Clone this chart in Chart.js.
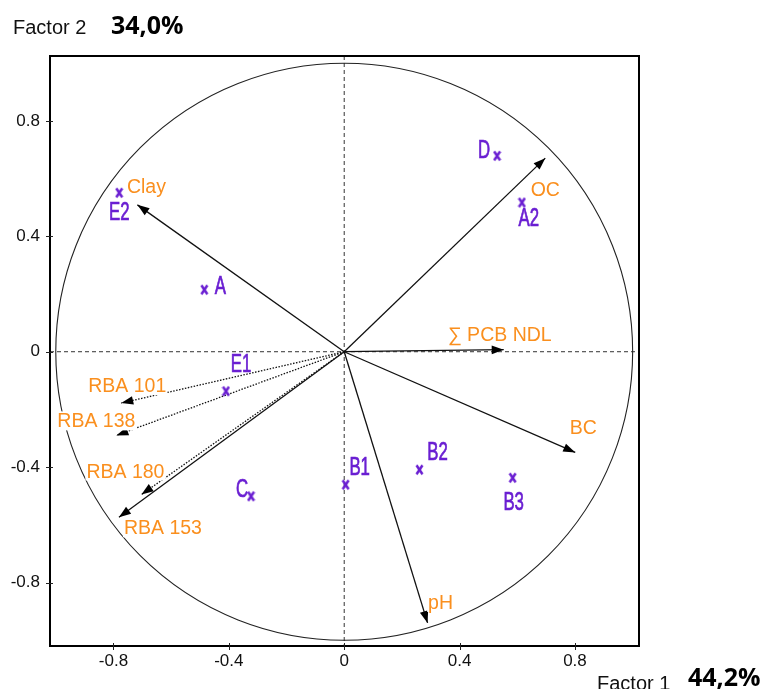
<!DOCTYPE html>
<html>
<head>
<meta charset="utf-8">
<script src="https://cdn.jsdelivr.net/npm/chart.js@4.4.1/dist/chart.umd.min.js"></script>
<style>
html,body{margin:0;padding:0;background:#fff;overflow:hidden}
#wrap{width:766px;height:689px;position:relative}
canvas{display:block}
</style>
</head>
<body>
<div id="wrap"><canvas id="c" width="766" height="689"></canvas></div>
<script>
// ---- data ----
const obsNames = ['A', 'A2', 'B1', 'B2', 'B3', 'C', 'D', 'E1', 'E2'];
const obsF1 = [-0.485, 0.616, 0.005, 0.261, 0.584, -0.323, 0.530, -0.410, -0.780];
const obsF2 = [0.215, 0.517, -0.461, -0.409, -0.437, -0.501, 0.679, -0.137, 0.551];

const varNames = ['Clay', 'OC', '\u2211 PCB NDL', 'BC', 'pH', 'RBA 101', 'RBA 138', 'RBA 180', 'RBA 153'];
const varF1 = [-0.717, 0.697, 0.553, 0.801, 0.289, -0.773, -0.790, -0.703, -0.781];
const varF2 = [0.509, 0.671, 0.007, -0.349, -0.940, -0.178, -0.290, -0.495, -0.574];

const xTicks = [-0.8, -0.4, 0, 0.4, 0.8];
const xTickLabels = ['-0.8', '-0.4', '0', '0.4', '0.8'];
const yTicks = [-0.8, -0.4, 0, 0.4, 0.8];
const yTickLabels = ['-0.8', '-0.4', '0', '0.4', '0.8'];

const xTitle = 'Factor 1';
const xPct = '44,2%';
const yTitle = 'Factor 2';
const yPct = '34,0%';

// ---- styles ----
const PURPLE = '#6a1fd2';
const ORANGE = '#fa8f1e';
const dottedVars = ['RBA 101', 'RBA 138', 'RBA 180'];
// label offsets in pixels (text centre relative to mark)
const obsLabelOffset = {
  'A': [16, -5], 'A2': [7, 14], 'B1': [14, -19], 'B2': [18, -19], 'B3': [1, 23],
  'C': [-9, -8], 'D': [-13, -7], 'E1': [15, -28], 'E2': [0, 18]
};
const varLabelOffset = {
  'Clay': [9, -19], 'OC': [0, 31], '\u2211 PCB NDL': [-4, -16], 'BC': [8, -25], 'pH': [13, -21],
  'RBA 101': [6, -18], 'RBA 138': [-20, -15], 'RBA 180': [-16, -24], 'RBA 153': [44, 10]
};

// marker image: narrow bold "x"
const marker = document.createElement('canvas');
marker.width = 9; marker.height = 12;
(function () {
  const m = marker.getContext('2d');
  m.strokeStyle = PURPLE; m.lineWidth = 2.5; m.lineCap = 'butt';
  m.beginPath();
  m.moveTo(1.5, 1.5); m.lineTo(7.5, 10.5);
  m.moveTo(7.5, 1.5); m.lineTo(1.5, 10.5);
  m.stroke();
})();

const datasets = [];
datasets.push({
  label: 'obs',
  type: 'scatter',
  data: obsNames.map((n, i) => ({ x: obsF1[i], y: obsF2[i] })),
  pointStyle: marker,
  pointRadius: 5,
  order: 0
});
varNames.forEach((n, i) => {
  datasets.push({
    label: n,
    type: 'line',
    data: [{ x: 0, y: 0 }, { x: varF1[i], y: varF2[i] }],
    borderColor: '#111',
    borderWidth: 1.3,
    borderDash: dottedVars.includes(n) ? [1.5, 1.5] : [],
    pointRadius: 0,
    fill: false,
    tension: 0,
    order: 1
  });
});

const SANS = '"Liberation Sans", Arial, sans-serif';

const decor = {
  id: 'decor',
  beforeDatasetsDraw(chart) {
    const { ctx, chartArea: a, scales: { x, y } } = chart;
    const x0 = x.getPixelForValue(0), y0 = y.getPixelForValue(0);
    ctx.save();
    // dashed zero axes
    ctx.strokeStyle = '#333';
    ctx.lineWidth = 1;
    ctx.setLineDash([4, 3]);
    ctx.beginPath();
    ctx.moveTo(a.left, y0); ctx.lineTo(a.right, y0);
    ctx.moveTo(x0, a.top); ctx.lineTo(x0, a.bottom);
    ctx.stroke();
    ctx.setLineDash([]);
    // correlation circle (radius 1)
    const rx = x.getPixelForValue(1) - x0;
    const ry = y0 - y.getPixelForValue(1);
    ctx.strokeStyle = '#222';
    ctx.lineWidth = 1.1;
    ctx.beginPath();
    ctx.ellipse(x0, y0, rx, ry, 0, 0, Math.PI * 2);
    ctx.stroke();
    ctx.restore();
  },
  afterDatasetsDraw(chart) {
    const { ctx } = chart;
    ctx.save();
    // arrowheads
    varNames.forEach((n, i) => {
      const meta = chart.getDatasetMeta(i + 1);
      const p0 = meta.data[0], p1 = meta.data[1];
      const ang = Math.atan2(p1.y - p0.y, p1.x - p0.x);
      const L = 12, W = 4.3;
      ctx.fillStyle = '#000';
      ctx.beginPath();
      ctx.moveTo(p1.x, p1.y);
      ctx.lineTo(p1.x - L * Math.cos(ang) + W * Math.sin(ang), p1.y - L * Math.sin(ang) - W * Math.cos(ang));
      ctx.lineTo(p1.x - L * Math.cos(ang) - W * Math.sin(ang), p1.y - L * Math.sin(ang) + W * Math.cos(ang));
      ctx.closePath();
      ctx.fill();
    });
    // variable labels (orange)
    ctx.font = '19.5px ' + SANS;
    ctx.textAlign = 'center';
    ctx.textBaseline = 'alphabetic';
    varNames.forEach((n, i) => {
      const p = chart.getDatasetMeta(i + 1).data[1];
      const off = varLabelOffset[n];
      const cx = p.x + off[0], cy = p.y + off[1];
      const w = ctx.measureText(n).width;
      ctx.fillStyle = '#fff';
      ctx.fillRect(cx - w / 2 - 1, cy - 9, w + 2, 19);
      ctx.fillStyle = ORANGE;
      ctx.fillText(n, cx, cy + 7);
    });
    // observation labels (purple, condensed and tall)
    const meta0 = chart.getDatasetMeta(0);
    obsNames.forEach((n, i) => {
      const p = meta0.data[i];
      const off = obsLabelOffset[n];
      const cx = p.x + off[0], cy = p.y + off[1];
      ctx.save();
      ctx.translate(cx, cy + 9);
      ctx.scale(0.8, 1.22);
      ctx.font = '21px ' + SANS;
      ctx.fillStyle = PURPLE;
      ctx.strokeStyle = PURPLE;
      ctx.lineWidth = 0.6;
      ctx.textAlign = 'center';
      ctx.fillText(n, 0, 0);
      ctx.strokeText(n, 0, 0);
      ctx.restore();
    });
    ctx.restore();
  },
  afterDraw(chart) {
    const { ctx, chartArea: a, scales: { x, y } } = chart;
    ctx.save();
    // frame
    ctx.strokeStyle = '#000';
    ctx.lineWidth = 2;
    ctx.strokeRect(a.left, a.top, a.right - a.left, a.bottom - a.top);
    // tick marks crossing the frame
    ctx.lineWidth = 1;
    ctx.strokeStyle = '#222';
    ctx.beginPath();
    xTicks.forEach(v => {
      const px = Math.round(x.getPixelForValue(v)) + 0.5;
      ctx.moveTo(px, a.bottom - 3); ctx.lineTo(px, a.bottom + 4);
    });
    yTicks.forEach(v => {
      const py = Math.round(y.getPixelForValue(v)) + 0.5;
      ctx.moveTo(a.left - 4, py); ctx.lineTo(a.left + 3, py);
    });
    ctx.stroke();
    // axis titles
    ctx.fillStyle = '#111';
    ctx.textAlign = 'left';
    ctx.textBaseline = 'alphabetic';
    ctx.font = '20px ' + SANS;
    ctx.fillText(yTitle, 13, 34);
    ctx.fillText(xTitle, 597, 690);
    ctx.font = 'bold 25px "Open Sans", "Liberation Sans", sans-serif';
    ctx.fillStyle = '#000';
    ctx.fillText(yPct, 111, 34);
    ctx.fillText(xPct, 688, 686);
    ctx.restore();
  }
};

new Chart(document.getElementById('c'), {
  data: { datasets },
  options: {
    responsive: false,
    animation: false,
    devicePixelRatio: 1,
    layout: { padding: { top: 56, right: 127, bottom: 0, left: 0 } },
    plugins: { legend: { display: false }, tooltip: { enabled: false }, title: { display: false } },
    scales: {
      x: {
        type: 'linear',
        min: -1.02, max: 1.022,
        afterBuildTicks: s => { s.ticks = xTicks.map(v => ({ value: v })); },
        afterFit: s => { s.height = 43; },
        ticks: {
          callback: (v, i) => xTickLabels[i],
          font: { family: SANS, size: 17 },
          color: '#111', padding: 5, maxRotation: 0, autoSkip: false
        },
        grid: { display: false, drawTicks: false },
        border: { display: false }
      },
      y: {
        type: 'linear',
        min: -1.02, max: 1.025,
        afterBuildTicks: s => { s.ticks = yTicks.map(v => ({ value: v })); },
        afterFit: s => { s.width = 50; },
        ticks: {
          callback: (v, i) => yTickLabels[i],
          font: { family: SANS, size: 17 },
          color: '#111', padding: 10, autoSkip: false
        },
        grid: { display: false, drawTicks: false },
        border: { display: false }
      }
    }
  },
  plugins: [decor]
});
</script>
</body>
</html>
